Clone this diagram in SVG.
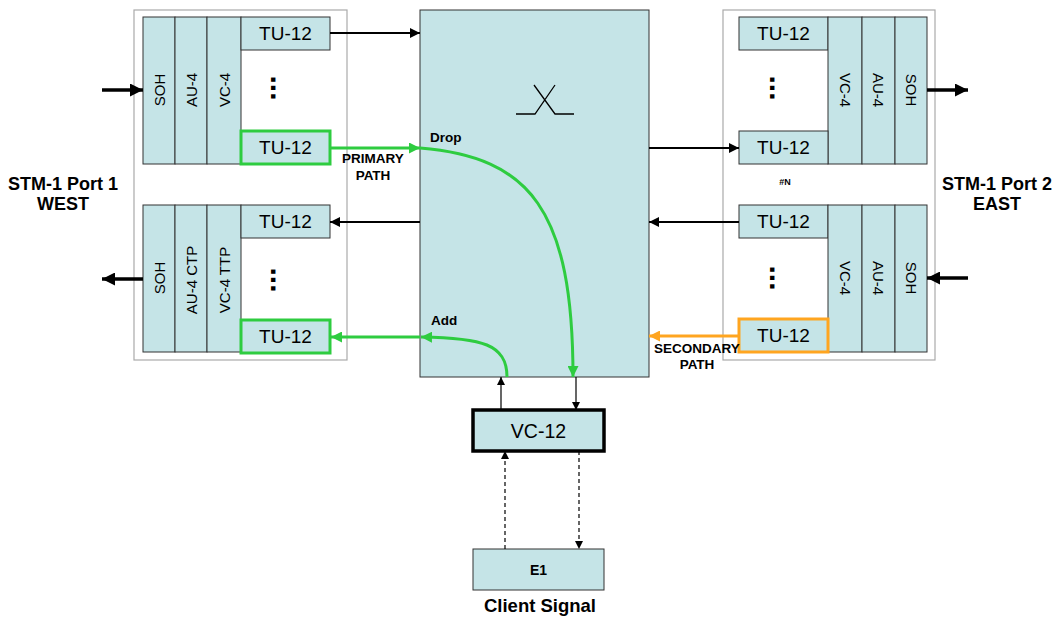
<svg xmlns="http://www.w3.org/2000/svg" width="1060" height="618" viewBox="0 0 1060 618">
<style>
.bx{fill:#c5e4e7;stroke:#333;stroke-width:1}
.outer{fill:#fff;stroke:#aaa;stroke-width:1.2}
.tu{font-family:"Liberation Sans",Arial,sans-serif;font-size:19px;fill:#000;text-anchor:middle;dominant-baseline:central}
.vt{font-family:"Liberation Sans",Arial,sans-serif;font-size:15px;fill:#000;text-anchor:middle;dominant-baseline:central}
.lbl{font-family:"Liberation Sans",Arial,sans-serif;font-size:13.5px;font-weight:bold;fill:#000;text-anchor:middle}
.big{font-family:"Liberation Sans",Arial,sans-serif;font-size:18px;font-weight:bold;fill:#000;text-anchor:middle}
.dots{font-family:"Liberation Sans",Arial,sans-serif;font-size:30px;font-weight:bold;fill:#000;text-anchor:middle;dominant-baseline:central}
.green{stroke:#2ecc40;stroke-width:3;fill:none}
.orange{stroke:#ffa520;stroke-width:3;fill:none}
</style>
<defs>
<marker id="ah" markerUnits="userSpaceOnUse" viewBox="0 0 10 10" refX="10" refY="5" markerWidth="10" markerHeight="10" orient="auto"><path d="M0,0 L10,5 L0,10 z" fill="#000"/></marker>
<marker id="ahs" markerUnits="userSpaceOnUse" viewBox="0 0 10 10" refX="10" refY="5" markerWidth="8" markerHeight="8" orient="auto"><path d="M0,0 L10,5 L0,10 z" fill="#000"/></marker>
<marker id="ahb" markerUnits="userSpaceOnUse" viewBox="0 0 10 10" refX="10" refY="5" markerWidth="13" markerHeight="13" orient="auto"><path d="M0,0 L10,5 L0,10 z" fill="#000"/></marker>
<marker id="ahg" markerUnits="userSpaceOnUse" viewBox="0 0 10 10" refX="10" refY="5" markerWidth="11" markerHeight="11" orient="auto"><path d="M0,0 L10,5 L0,10 z" fill="#2ecc40"/></marker>
<marker id="aho" markerUnits="userSpaceOnUse" viewBox="0 0 10 10" refX="10" refY="5" markerWidth="11" markerHeight="11" orient="auto"><path d="M0,0 L10,5 L0,10 z" fill="#ffa520"/></marker>
</defs>
<rect width="1060" height="618" fill="#fff"/>

<rect class="outer" x="134" y="10" width="213" height="350"/>
<rect class="outer" x="723" y="10" width="212" height="350"/>

<g id="west-rx">
<rect class="bx" x="143" y="17" width="32" height="147"/>
<rect class="bx" x="175" y="17" width="32" height="147"/>
<rect class="bx" x="207" y="17" width="34" height="147"/>
<rect class="bx" x="241" y="17" width="89" height="33"/>
<rect class="bx" x="241" y="131" width="89" height="33" style="stroke:#2ecc40;stroke-width:3"/>
<text class="vt" transform="rotate(-90 159 90)" x="159" y="90">SOH</text>
<text class="vt" transform="rotate(-90 191 90)" x="191" y="90">AU-4</text>
<text class="vt" transform="rotate(-90 224 90)" x="224" y="90">VC-4</text>
<text class="tu" x="285.5" y="33.5">TU-12</text>
<text class="dots" transform="rotate(90 281 88)" x="281" y="88">...</text>
<text class="tu" x="285.5" y="147.5">TU-12</text>
</g>

<g id="west-tx">
<rect class="bx" x="143" y="205" width="32" height="147"/>
<rect class="bx" x="175" y="205" width="32" height="147"/>
<rect class="bx" x="207" y="205" width="34" height="147"/>
<rect class="bx" x="241" y="205" width="89" height="33"/>
<rect class="bx" x="241" y="320" width="89" height="33" style="stroke:#2ecc40;stroke-width:3"/>
<text class="vt" transform="rotate(-90 159 278)" x="159" y="278">SOH</text>
<text class="vt" transform="rotate(-90 191 280)" x="191" y="280">AU-4 CTP</text>
<text class="vt" transform="rotate(-90 224 280)" x="224" y="280">VC-4 TTP</text>
<text class="tu" x="285.5" y="221.5">TU-12</text>
<text class="dots" transform="rotate(90 281 280)" x="281" y="280">...</text>
<text class="tu" x="285.5" y="336.5">TU-12</text>
</g>

<g id="east-tx">
<rect class="bx" x="739" y="17" width="89" height="33"/>
<rect class="bx" x="828" y="17" width="34" height="147"/>
<rect class="bx" x="862" y="17" width="33" height="147"/>
<rect class="bx" x="895" y="17" width="32" height="147"/>
<rect class="bx" x="739" y="131" width="89" height="33"/>
<text class="tu" x="783.5" y="33.5">TU-12</text>
<text class="dots" transform="rotate(90 780 88)" x="780" y="88">...</text>
<text class="tu" x="783.5" y="147.5">TU-12</text>
<text class="vt" transform="rotate(90 845 90)" x="845" y="90">VC-4</text>
<text class="vt" transform="rotate(90 878.5 90)" x="878.5" y="90">AU-4</text>
<text class="vt" transform="rotate(90 911 90)" x="911" y="90">SOH</text>
<text x="785" y="185" style="font-family:'Liberation Sans',Arial,sans-serif;font-size:9px;font-weight:bold;text-anchor:middle">#N</text>
</g>

<g id="east-rx">
<rect class="bx" x="739" y="205" width="89" height="33"/>
<rect class="bx" x="828" y="205" width="34" height="147"/>
<rect class="bx" x="862" y="205" width="33" height="147"/>
<rect class="bx" x="895" y="205" width="32" height="147"/>
<rect class="bx" x="739" y="319" width="89" height="33" style="stroke:#ffa520;stroke-width:3"/>
<text class="tu" x="783.5" y="221.5">TU-12</text>
<text class="dots" transform="rotate(90 780 278)" x="780" y="278">...</text>
<text class="tu" x="783.5" y="335.5">TU-12</text>
<text class="vt" transform="rotate(90 845 278)" x="845" y="278">VC-4</text>
<text class="vt" transform="rotate(90 878.5 278)" x="878.5" y="278">AU-4</text>
<text class="vt" transform="rotate(90 911 278)" x="911" y="278">SOH</text>
</g>

<g id="matrix">
<rect class="bx" x="420" y="10" width="229" height="367"/>
<path d="M516,114 H535 L555,85 M534,85 L555,114 H574" fill="none" stroke="#000" stroke-width="1.3"/>
<text class="lbl" x="430" y="142" style="text-anchor:start">Drop</text>
<text class="lbl" x="431" y="325" style="text-anchor:start">Add</text>
</g>

<g id="vc12">
<rect class="bx" x="473" y="410" width="131" height="41" style="stroke:#000;stroke-width:3.5"/>
<text class="tu" x="538.5" y="430.5" style="font-size:19.5px">VC-12</text>
</g>

<g id="e1">
<rect class="bx" x="473" y="549" width="131" height="41"/>
<text class="tu" x="538.5" y="569.5" style="font-size:14px;font-weight:bold">E1</text>
</g>

<g id="labels">
<text class="big" x="63" y="190">STM-1 Port 1</text>
<text class="big" x="63" y="210">WEST</text>
<text class="big" x="997" y="190">STM-1 Port 2</text>
<text class="big" x="997" y="210">EAST</text>
<text class="lbl" x="373" y="163">PRIMARY</text>
<text class="lbl" x="373" y="180">PATH</text>
<text class="lbl" x="697" y="353">SECONDARY</text>
<text class="lbl" x="697" y="369">PATH</text>
<text class="big" x="540" y="612" style="font-size:18.5px">Client Signal</text>
</g>

<g id="connectors">
<line x1="102" y1="90" x2="143" y2="90" stroke="#000" stroke-width="3.5" marker-end="url(#ahb)"/>
<line x1="143" y1="279" x2="102" y2="279" stroke="#000" stroke-width="3.5" marker-end="url(#ahb)"/>
<line x1="927" y1="90" x2="968" y2="90" stroke="#000" stroke-width="3.5" marker-end="url(#ahb)"/>
<line x1="968" y1="278" x2="927" y2="278" stroke="#000" stroke-width="3.5" marker-end="url(#ahb)"/>
<line x1="330" y1="33" x2="420" y2="33" stroke="#000" stroke-width="2" marker-end="url(#ah)"/>
<line x1="420" y1="222" x2="330" y2="222" stroke="#000" stroke-width="2" marker-end="url(#ah)"/>
<line x1="649" y1="148" x2="739" y2="148" stroke="#000" stroke-width="2" marker-end="url(#ah)"/>
<line x1="739" y1="222" x2="649" y2="222" stroke="#000" stroke-width="2" marker-end="url(#ah)"/>
<line class="green" x1="331" y1="148" x2="420" y2="148" marker-end="url(#ahg)"/>
<path class="green" d="M420,148 C530,157 573,210 573,377" marker-end="url(#ahg)"/>
<path class="green" d="M507,377 C507,344 482,338 421,337" marker-end="url(#ahg)"/>
<line class="green" x1="420" y1="337" x2="331" y2="337" marker-end="url(#ahg)"/>
<line class="orange" x1="738" y1="336" x2="649" y2="336" marker-end="url(#aho)"/>
<line x1="501" y1="410" x2="501" y2="377" stroke="#000" stroke-width="1.2" marker-end="url(#ahs)"/>
<line x1="576" y1="377" x2="576" y2="410" stroke="#000" stroke-width="1.2" marker-end="url(#ahs)"/>
<line x1="505" y1="549" x2="505" y2="451" stroke="#000" stroke-width="1.2" stroke-dasharray="4,3" marker-end="url(#ahs)"/>
<line x1="579" y1="451" x2="579" y2="549" stroke="#000" stroke-width="1.2" stroke-dasharray="4,3" marker-end="url(#ahs)"/>
</g>
</svg>
